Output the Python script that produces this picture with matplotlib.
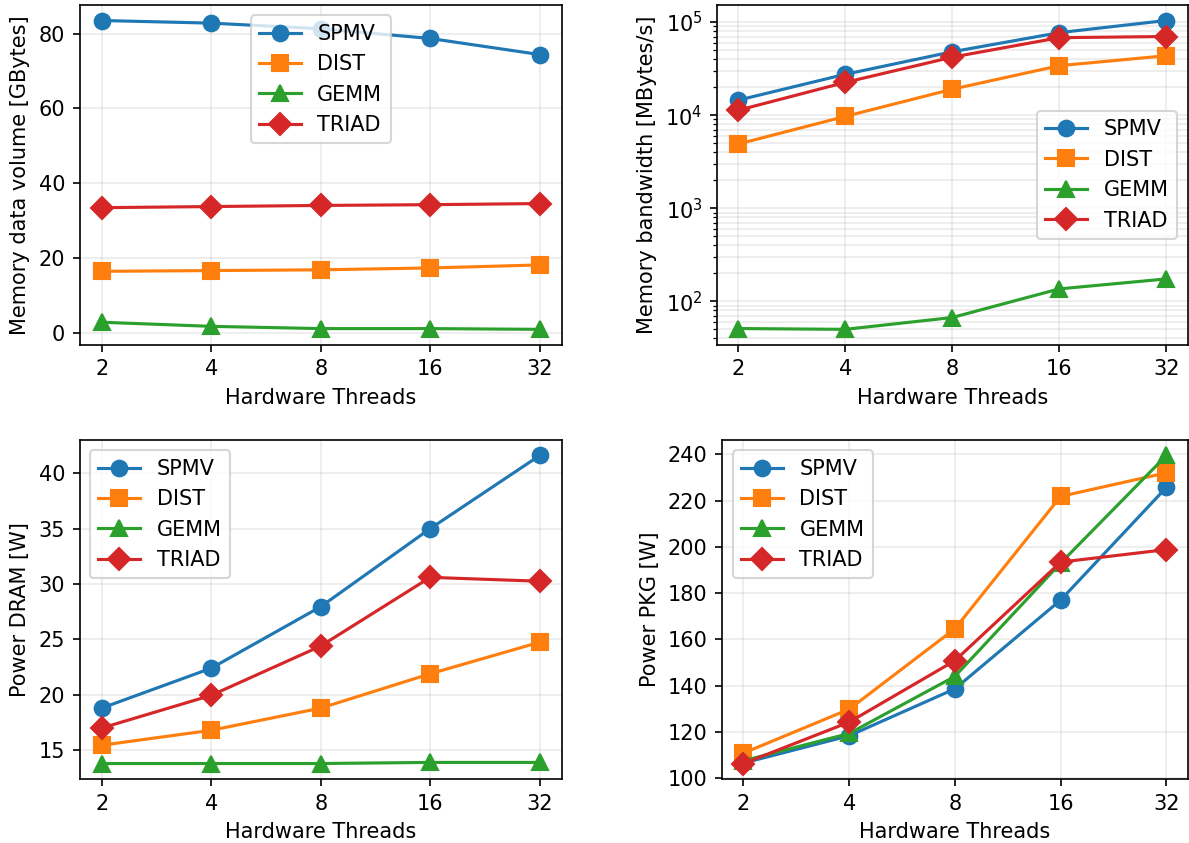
import numpy as np
import matplotlib
matplotlib.use('Agg')
import matplotlib.pyplot as plt
from matplotlib.ticker import MultipleLocator, NullLocator

threads = [2, 4, 8, 16, 32]
kernels = ['SPMV', 'DIST', 'GEMM', 'TRIAD']
markers = ['o', 's', '^', 'D']

# memory data volume [GBytes]
volume_spmv = [83.5, 82.8, 81.3, 78.7, 74.4]
volume_dist = [16.5, 16.7, 16.9, 17.4, 18.2]
volume_gemm = [2.9, 1.8, 1.2, 1.2, 1.0]
volume_triad = [33.5, 33.8, 34.1, 34.3, 34.6]

# memory bandwidth [MBytes/s]
bw_spmv = [1.45e4, 2.75e4, 4.8e4, 7.7e4, 1.04e5]
bw_dist = [4.9e3, 9.7e3, 1.9e4, 3.4e4, 4.35e4]
bw_gemm = [51, 50, 67, 136, 174]
bw_triad = [1.13e4, 2.25e4, 4.2e4, 6.8e4, 7.0e4]

# DRAM power [W]
dram_spmv = [18.8, 22.4, 27.95, 35.0, 41.6]
dram_dist = [15.45, 16.8, 18.8, 21.9, 24.75]
dram_gemm = [13.8, 13.8, 13.8, 13.9, 13.9]
dram_triad = [17.0, 19.95, 24.4, 30.6, 30.25]

# PKG power [W]
pkg_spmv = [106.5, 118.3, 138.6, 177.0, 225.7]
pkg_dist = [110.8, 129.8, 164.6, 221.8, 232.0]
pkg_gemm = [107.5, 119.3, 144.0, 193.0, 239.5]
pkg_triad = [106.3, 124.2, 150.8, 193.4, 198.8]

panels = [
    ([volume_spmv, volume_dist, volume_gemm, volume_triad], 'Memory data volume [GBytes]', 'upper center', False),
    ([bw_spmv, bw_dist, bw_gemm, bw_triad], 'Memory bandwidth [MBytes/s]', 'center right', True),
    ([dram_spmv, dram_dist, dram_gemm, dram_triad], 'Power DRAM [W]', 'upper left', False),
    ([pkg_spmv, pkg_dist, pkg_gemm, pkg_triad], 'Power PKG [W]', 'upper left', False),
]

# axes rectangles (left, bottom, width, height) in figure fractions
rects = [
    [0.067, 0.591, 0.405, 0.403],
    [0.6025, 0.591, 0.3955, 0.403],
    [0.067, 0.076, 0.405, 0.402],
    [0.607, 0.076, 0.391, 0.402],
]

fig = plt.figure(figsize=(7.933, 5.62), dpi=150)

for i, ((series, ylabel, loc, logy), rect) in enumerate(zip(panels, rects)):
    ax = fig.add_axes(rect)
    for name, vals, m in zip(kernels, series, markers):
        ax.plot(threads, vals, marker=m, markersize=7.5, linewidth=1.5, label=name)
    ax.set_xscale('log', base=2)
    ax.set_xticks(threads)
    ax.set_xticklabels([str(t) for t in threads])
    ax.xaxis.set_minor_locator(NullLocator())
    if logy:
        ax.set_yscale('log')
        ax.grid(True, which='both', alpha=0.25)
    else:
        ax.grid(True, alpha=0.25)
    if i == 3:
        ax.yaxis.set_major_locator(MultipleLocator(20))
    ax.set_xlabel('Hardware Threads')
    ax.set_ylabel(ylabel)
    ax.legend(loc=loc)

plt.savefig('out.png')
